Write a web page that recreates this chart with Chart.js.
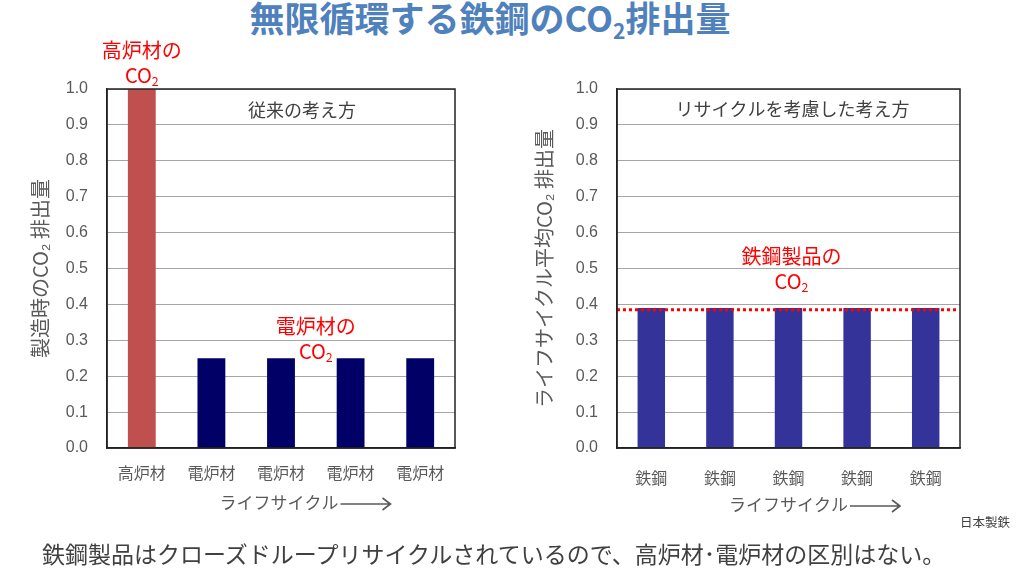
<!DOCTYPE html>
<html lang="ja">
<head>
<meta charset="utf-8">
<script src="https://cdn.jsdelivr.net/npm/chart.js@4.4.1/dist/chart.umd.min.js"></script>
<style>
  body { margin: 0; width: 1024px; height: 580px; background: #fff; position: relative; overflow: hidden;
         font-family: 'Noto Sans CJK JP', sans-serif; }
  canvas { position: absolute; top: 0; }
  #leftChart { left: 0; }
  #rightChart { left: 512px; }
  .title { position: absolute; left: 0; width: 980px; top: -3px; line-height: 40px; text-align: center;
           font-size: 35px; font-weight: bold; color: #4F81BD; }
  .title sub { font-size: 60%; vertical-align: -0.35em; line-height: 0; }
  .note { position: absolute; left: 42px; top: 540px; line-height: 26px; font-size: 23px; color: #404040; }
  .source { position: absolute; right: 14px; top: 514px; line-height: 15px; font-size: 12.5px; color: #404040; }
</style>
</head>
<body>
<div class="title">無限循環する鉄鋼のCO<sub>2</sub>排出量</div>
<canvas id="leftChart" width="512" height="580"></canvas>
<canvas id="rightChart" width="512" height="580"></canvas>
<div class="source">日本製鉄</div>
<div class="note">鉄鋼製品はクローズドループリサイクルされているので、高炉材･電炉材の区別はない。</div>
<script>
// 従来の考え方
const labelsConv = ['高炉材', '電炉材', '電炉材', '電炉材', '電炉材'];
const valuesConv = [1.0, 0.25, 0.25, 0.25, 0.25];
const colorsConv = ['#C0504D', '#000066', '#000066', '#000066', '#000066'];

// リサイクルを考慮した考え方
const labelsRec = ['鉄鋼', '鉄鋼', '鉄鋼', '鉄鋼', '鉄鋼'];
const valuesRec = [0.39, 0.39, 0.39, 0.39, 0.39];
const avgRec = 0.385;

const jpFont = "'Noto Sans CJK JP', sans-serif";
const numFont = "'Liberation Sans', 'Noto Sans CJK JP', sans-serif";
const grayText = '#595959';

// CO2 を下付きの 2 付きで描く
function drawCO2(ctx, cx, cy, size, color) {
    ctx.save();
    ctx.fillStyle = color;
    ctx.textBaseline = 'middle';
    ctx.font = size + 'px ' + jpFont;
    const w1 = ctx.measureText('CO').width;
    ctx.font = (size * 0.62) + 'px ' + jpFont;
    const w2 = ctx.measureText('2').width;
    const x0 = cx - (w1 + w2) / 2;
    ctx.textAlign = 'left';
    ctx.font = size + 'px ' + jpFont;
    ctx.fillText('CO', x0, cy);
    ctx.font = (size * 0.62) + 'px ' + jpFont;
    ctx.fillText('2', x0 + w1, cy + size * 0.3);
    ctx.restore();
}

function drawText(ctx, text, cx, cy, size, color) {
    ctx.save();
    ctx.fillStyle = color;
    ctx.font = size + 'px ' + jpFont;
    ctx.textAlign = 'center';
    ctx.textBaseline = 'middle';
    ctx.fillText(text, cx, cy);
    ctx.restore();
}

function lifeCycleCaption(ctx, cx, cy) {
    ctx.save();
    ctx.fillStyle = grayText;
    ctx.font = '17px ' + jpFont;
    ctx.textBaseline = 'middle';
    const t = 'ライフサイクル';
    const w = ctx.measureText(t).width;
    const arrow = 50;
    const x0 = cx - (w + arrow + 4) / 2;
    ctx.fillText(t, x0, cy);
    const ax = x0 + w + 2;
    ctx.strokeStyle = grayText;
    ctx.lineWidth = 1.6;
    ctx.beginPath();
    ctx.moveTo(ax, cy + 1);
    ctx.lineTo(ax + arrow, cy + 1);
    ctx.moveTo(ax + arrow - 8, cy - 5);
    ctx.lineTo(ax + arrow, cy + 1);
    ctx.lineTo(ax + arrow - 8, cy + 7);
    ctx.stroke();
    ctx.restore();
}

const frame = {
    id: 'frame',
    afterDraw(chart) {
        const a = chart.chartArea;
        const ctx = chart.ctx;
        ctx.save();
        ctx.strokeStyle = '#222';
        ctx.lineWidth = 1.5;
        ctx.strokeRect(a.left, a.top, a.right - a.left, a.bottom - a.top);
        ctx.restore();
    }
};

function baseOptions(yTitle, yWidth, titlePad, rightPad, tickPad) {
    return {
        responsive: false,
        animation: false,
        layout: { padding: { top: 89, right: rightPad, left: 0, bottom: 0 } },
        plugins: { legend: { display: false }, tooltip: { enabled: false } },
        scales: {
            x: {
                grid: { display: false, drawTicks: false },
                border: { color: '#222', width: 1.5 },
                ticks: { color: grayText, font: { size: 16, family: jpFont }, padding: tickPad, maxRotation: 0 },
                afterFit(scale) { scale.height = 132; }
            },
            y: {
                min: 0, max: 1,
                grid: { color: '#A6A6A6', drawTicks: false },
                border: { color: '#222', width: 1.5 },
                ticks: {
                    stepSize: 0.1, padding: 19, color: grayText,
                    font: { size: 16, family: numFont },
                    callback: v => Number(v).toFixed(1)
                },
                title: {
                    display: true, text: yTitle, color: grayText,
                    font: { size: 20, family: jpFont },
                    padding: { top: titlePad, bottom: 0 }
                },
                afterFit(scale) { scale.width = yWidth; }
            }
        }
    };
}

const leftNotes = {
    id: 'leftNotes',
    afterDatasetsDraw(chart) {
        const ctx = chart.ctx;
        const x = chart.scales.x, y = chart.scales.y;
        const a = chart.chartArea;
        const red = '#FF0000';
        const bx = x.getPixelForValue(0);
        drawText(ctx, '高炉材の', bx, a.top - 39, 20, red);
        drawCO2(ctx, bx, a.top - 14, 20, red);
        const mx = (x.getPixelForValue(2) + x.getPixelForValue(3)) / 2;
        drawText(ctx, '電炉材の', mx, y.getPixelForValue(0.338), 20, red);
        drawCO2(ctx, mx, y.getPixelForValue(0.268), 20, red);
        drawText(ctx, '従来の考え方', (a.left + a.right) / 2 + 21, a.top + 21, 18, '#404040');
        lifeCycleCaption(ctx, (a.left + a.right) / 2 + 25, a.bottom + 55);
    }
};

const rightNotes = {
    id: 'rightNotes',
    afterDatasetsDraw(chart) {
        const ctx = chart.ctx;
        const y = chart.scales.y;
        const a = chart.chartArea;
        const red = '#FF0000';
        // 平均値の点線
        const ly = y.getPixelForValue(avgRec);
        ctx.save();
        ctx.strokeStyle = red;
        ctx.lineWidth = 3;
        ctx.setLineDash([3, 3]);
        ctx.beginPath();
        ctx.moveTo(a.left, ly);
        ctx.lineTo(a.right - 4, ly);
        ctx.stroke();
        ctx.restore();
        const cx = (a.left + a.right) / 2 + 3;
        drawText(ctx, '鉄鋼製品の', cx, y.getPixelForValue(0.535), 20, red);
        drawCO2(ctx, cx, y.getPixelForValue(0.463), 20, red);
        drawText(ctx, 'リサイクルを考慮した考え方', cx + 1, a.top + 20, 18, '#404040');
        lifeCycleCaption(ctx, cx + 24, a.bottom + 57);
    }
};

new Chart(document.getElementById('leftChart'), {
    type: 'bar',
    data: {
        labels: labelsConv,
        datasets: [{
            data: valuesConv,
            backgroundColor: colorsConv,
            barPercentage: 0.4,
            categoryPercentage: 1.0
        }]
    },
    options: baseOptions('製造時のCO₂ 排出量', 107, 28, 57, 15),
    plugins: [leftNotes, frame]
});

new Chart(document.getElementById('rightChart'), {
    type: 'bar',
    data: {
        labels: labelsRec,
        datasets: [{
            data: valuesRec,
            backgroundColor: '#333399',
            barPercentage: 0.4,
            categoryPercentage: 1.0
        }]
    },
    options: baseOptions('ライフサイクル平均CO₂ 排出量', 105, 20, 64, 20),
    plugins: [rightNotes, frame]
});
</script>
</body>
</html>
